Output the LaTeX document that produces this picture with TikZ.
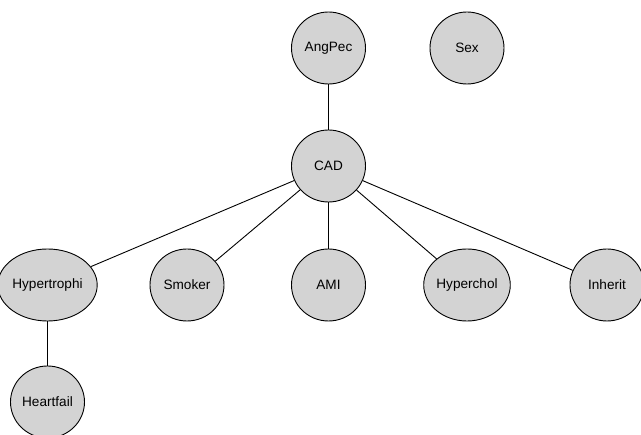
\documentclass[tikz,border=0pt]{standalone}
\usepackage{fontspec}
\setmainfont{Liberation Sans}
\usetikzlibrary{shapes.geometric}
\definecolor{nodegray}{HTML}{D3D3D3}
\begin{document}
\begin{tikzpicture}[x=1pt,y=-1pt,
  var/.style={ellipse, draw=black, line width=0.9pt, fill=nodegray,
    minimum width=74pt, minimum height=72pt, inner sep=0pt,
    font=\fontsize{13.6}{15}\selectfont},
  link/.style={line width=0.9pt}]
\useasboundingbox (0,0) rectangle (641,435);
\node[var] (angpec) at (328.5,48) {AngPec};
\node[var] (sex) at (467,48) {Sex};
\node[var] (cad) at (328.5,166) {CAD};
\node[var] (hyper) at (47.5,285) {Hypertrophi};
\node[var] (smoker) at (187,285) {Smoker};
\node[var] (ami) at (328.5,285) {AMI};
\node[var] (chol) at (467,285) {Hyperchol};
\node[var] (inherit) at (607,285) {Inherit};
\node[var] (heart) at (47.5,402) {Heartfail};
\draw[link] (angpec) -- (cad);
\draw[link] (cad) -- (hyper);
\draw[link] (cad) -- (smoker);
\draw[link] (cad) -- (ami);
\draw[link] (cad) -- (chol);
\draw[link] (cad) -- (inherit);
\draw[link] (hyper) -- (heart);
\end{tikzpicture}
\end{document}
